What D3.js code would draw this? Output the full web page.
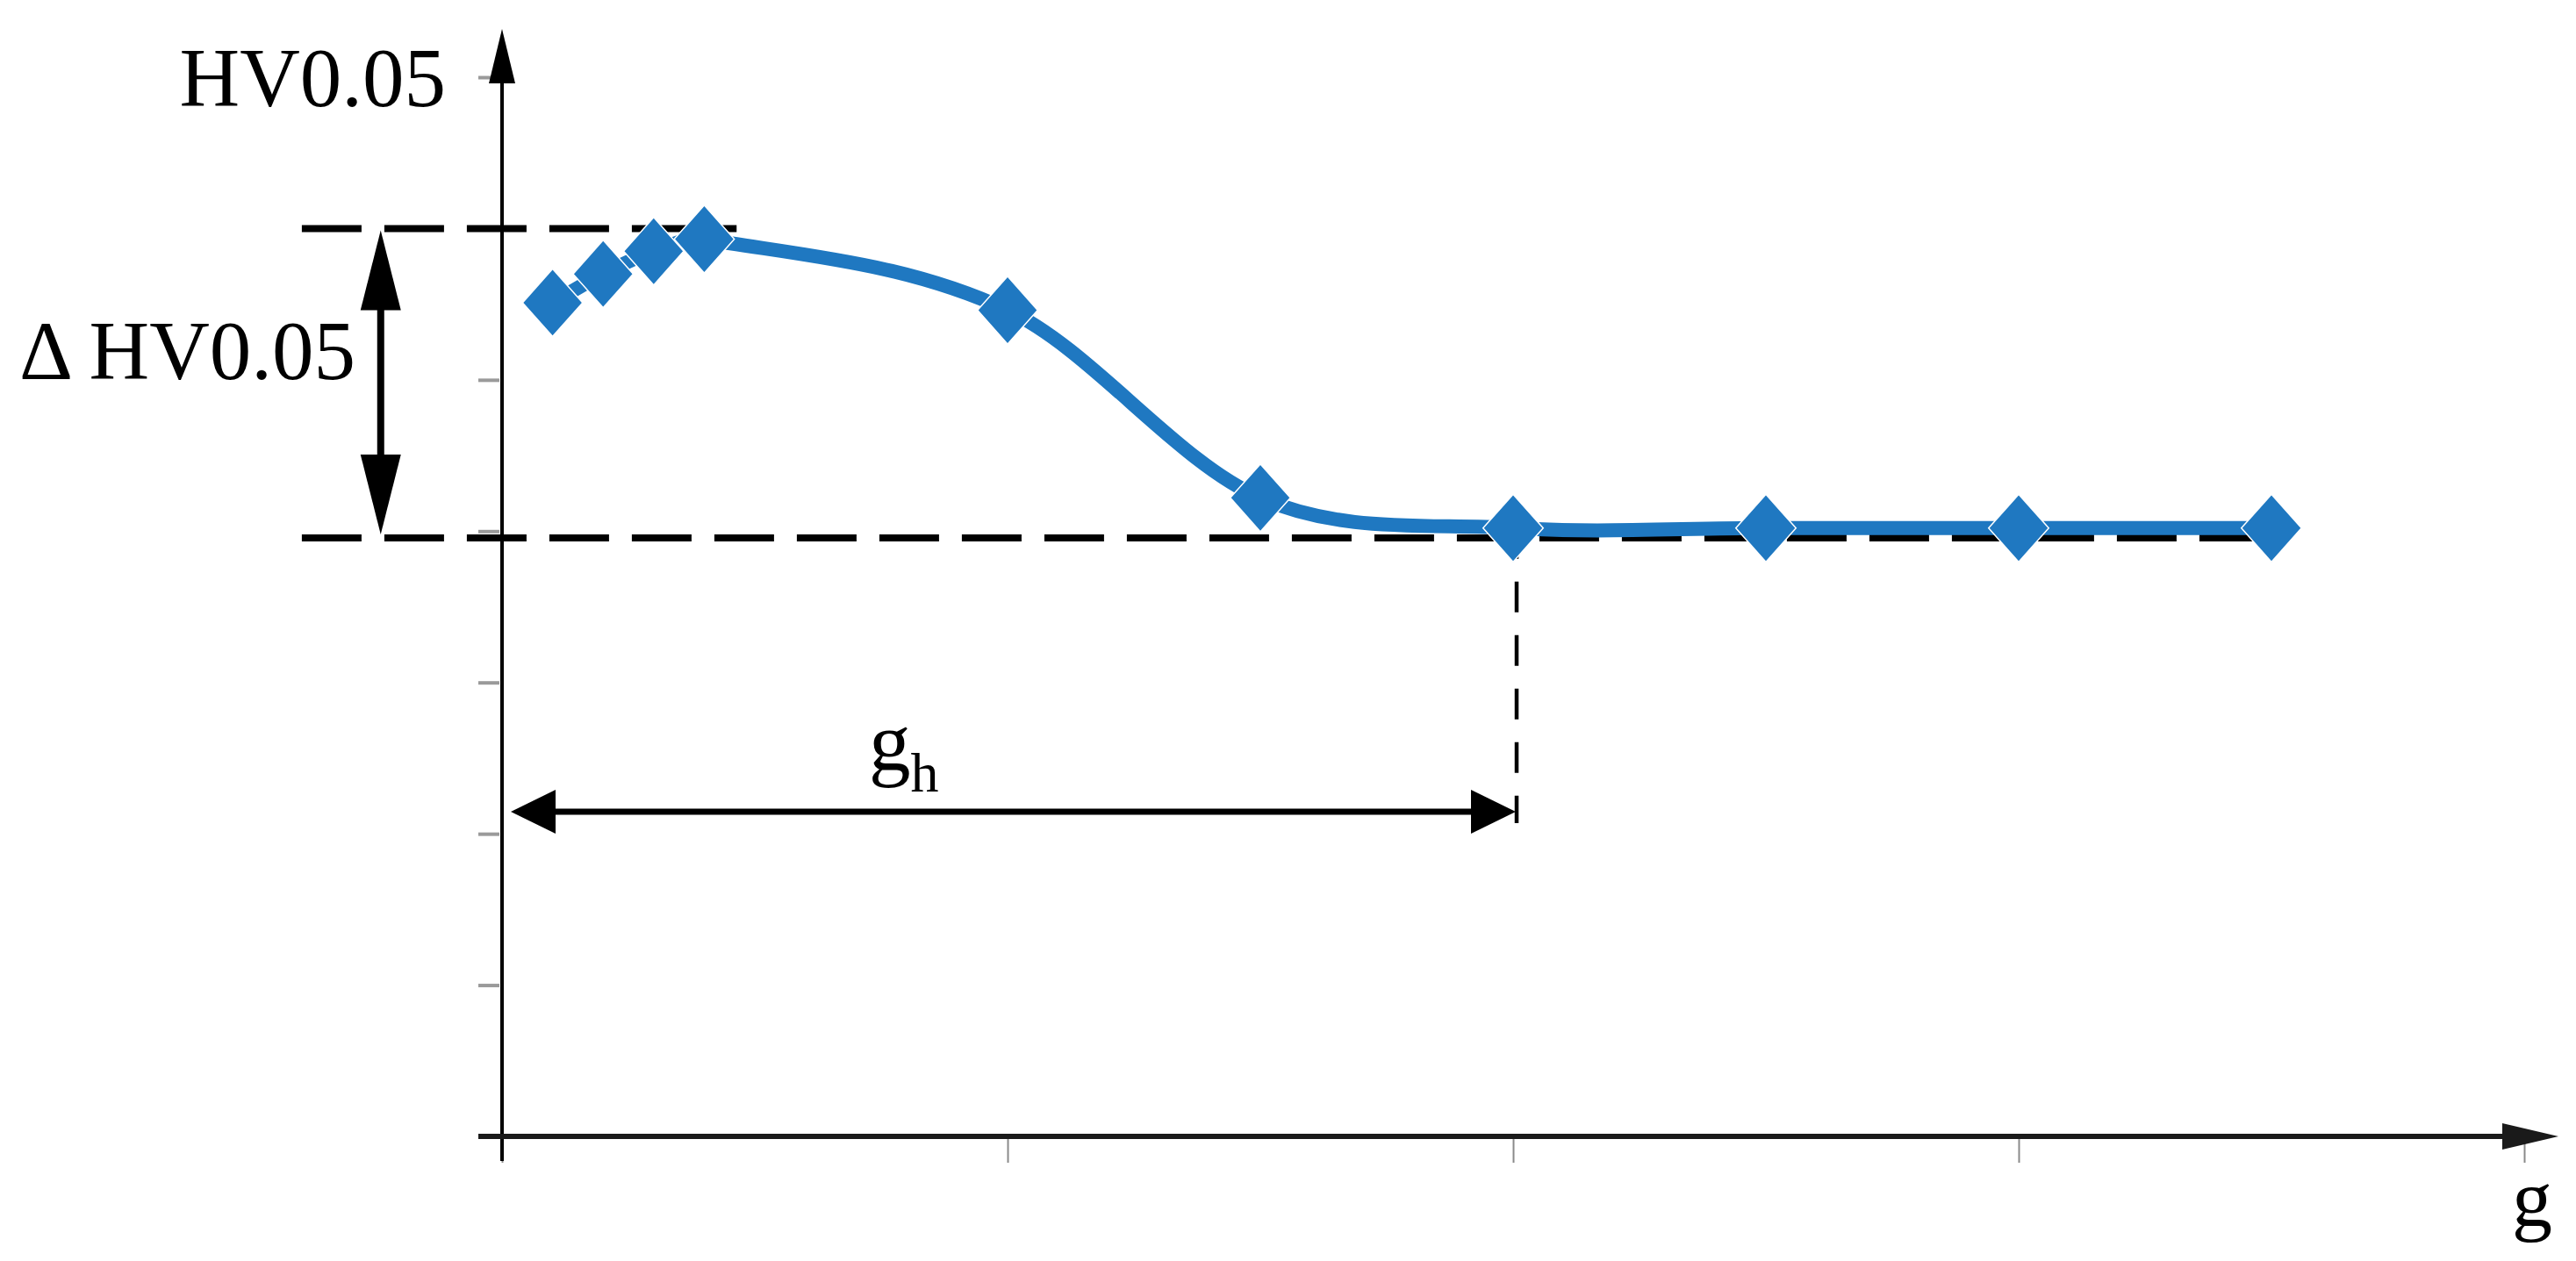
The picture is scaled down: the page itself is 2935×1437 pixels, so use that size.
<!DOCTYPE html>
<html>
<head>
<meta charset="utf-8">
<style>
  body { margin: 0; background: #fff; }
  svg { display: block; font-family: "Liberation Serif", "Times New Roman", serif; }
  .axis path { display: none; }
  .axis text { display: none; }
  .y.axis line { stroke: #9a9a9a; stroke-width: 4px; }
  .x.axis line { stroke: #8a8a8a; stroke-width: 2px; }
  .label { fill: #000; }
</style>
</head>
<body>
<script src="https://cdn.jsdelivr.net/npm/d3@7/dist/d3.min.js"></script>
<script>
// data (g in axis units, HV0.05 in axis units)
var gValues  = [0.1, 0.2, 0.3, 0.4, 1.0, 1.5, 2.0, 2.5, 3.0, 3.5];
var hvValues = [5.51, 5.70, 5.85, 5.93, 5.46, 4.22, 4.02, 4.02, 4.02, 4.02];
var xTicks = [0, 1, 2, 3, 4];
var yTicks = [0, 1, 2, 3, 4, 5, 6, 7];

// annotation levels
var hvMaxLevel = 6.0, hvMinLevel = 3.955;
var ghValue = 2.0;
var ghArrowLevel = 2.146, ghDropEnd = 2.07;
var deltaArrowG = -0.24;
var guideStart = -0.396, upperGuideEnd = 0.464, lowerGuideEnd = 3.536;

var W = 2935, H = 1437;
var blue = "#1f78c1";

var x = d3.scaleLinear().domain([0, 4]).range([572, 2876]);
var y = d3.scaleLinear().domain([0, 7]).range([1295, 88]);

var svg = d3.select("body").append("svg")
    .attr("width", W)
    .attr("height", H);

svg.append("rect").attr("width", W).attr("height", H).attr("fill", "#fff");

// ticks
svg.append("g")
    .attr("class", "y axis")
    .attr("transform", "translate(" + (x(0) - 3) + ",0)")
    .call(d3.axisLeft(y).tickValues(yTicks).tickSize(24).tickFormat(""));

svg.append("g")
    .attr("class", "x axis")
    .attr("transform", "translate(0," + y(0) + ")")
    .call(d3.axisBottom(x).tickValues(xTicks).tickSize(30).tickFormat(""));

function head(tx, ty, dx, dy, len, half) {
  var bx = tx - dx * len, by = ty - dy * len;
  var px = -dy * half, py = dx * half;
  return [[tx, ty], [bx + px, by + py], [bx - px, by - py]];
}

function arrow(x1, y1, x2, y2, opt) {
  var L = Math.hypot(x2 - x1, y2 - y1), dx = (x2 - x1) / L, dy = (y2 - y1) / L;
  var sx = opt.both ? x1 + dx * opt.len * 0.8 : x1, sy = opt.both ? y1 + dy * opt.len * 0.8 : y1;
  svg.append("line")
      .attr("x1", sx).attr("y1", sy)
      .attr("x2", x2 - dx * opt.len * 0.8).attr("y2", y2 - dy * opt.len * 0.8)
      .attr("stroke", opt.color).attr("stroke-width", opt.width);
  svg.append("polygon").attr("points", head(x2, y2, dx, dy, opt.len, opt.half).join(" ")).attr("fill", opt.color);
  if (opt.both)
    svg.append("polygon").attr("points", head(x1, y1, -dx, -dy, opt.len, opt.half).join(" ")).attr("fill", opt.color);
}

// smoothing like a spreadsheet chart: cubic Hermite, tangent = slope between neighbours
function curveSmooth(context) {
  var xs, ys;
  return {
    areaStart: function() {}, areaEnd: function() {},
    lineStart: function() { xs = []; ys = []; },
    point: function(px, py) { xs.push(+px); ys.push(+py); },
    lineEnd: function() {
      var n = xs.length;
      if (!n) return;
      var m = xs.map(function(_, i) {
        var a = Math.max(i - 1, 0), b = Math.min(i + 1, n - 1);
        return (ys[b] - ys[a]) / (xs[b] - xs[a]);
      });
      context.moveTo(xs[0], ys[0]);
      for (var i = 0; i < n - 1; i++) {
        var h = xs[i + 1] - xs[i];
        context.bezierCurveTo(xs[i] + h / 3, ys[i] + m[i] * h / 3,
                              xs[i + 1] - h / 3, ys[i + 1] - m[i + 1] * h / 3,
                              xs[i + 1], ys[i + 1]);
      }
    }
  };
}

// axes with arrows
arrow(x(0), y(0) + 28, x(0), 33, {len: 62, half: 15, width: 4, color: "#000"});
arrow(x(0) - 27, y(0), 2915, y(0), {len: 64, half: 15, width: 6, color: "#1a1a1a"});

// dashed guides
svg.append("line")
    .attr("x1", x(guideStart)).attr("x2", x(upperGuideEnd))
    .attr("y1", y(hvMaxLevel)).attr("y2", y(hvMaxLevel))
    .attr("stroke", "#000").attr("stroke-width", 8).attr("stroke-dasharray", "68,26");
svg.append("line")
    .attr("x1", x(guideStart)).attr("x2", x(lowerGuideEnd))
    .attr("y1", y(hvMinLevel)).attr("y2", y(hvMinLevel))
    .attr("stroke", "#000").attr("stroke-width", 8).attr("stroke-dasharray", "68,26");
svg.append("line")
    .attr("x1", x(ghValue) + 4).attr("x2", x(ghValue) + 4)
    .attr("y1", y(hvValues[6])).attr("y2", y(ghDropEnd))
    .attr("stroke", "#000").attr("stroke-width", 4.5).attr("stroke-dasharray", "35,26");

// delta arrow and g_h arrow
arrow(x(deltaArrowG), y(hvMinLevel) - 4, x(deltaArrowG), y(hvMaxLevel) + 2,
      {both: true, len: 91, half: 23, width: 8, color: "#000"});
arrow(x(0) + 10, y(ghArrowLevel), x(ghValue) + 3, y(ghArrowLevel),
      {both: true, len: 51, half: 25, width: 7, color: "#000"});

// series
var line = d3.line()
    .x(function(d, i) { return x(gValues[i]); })
    .y(function(d) { return y(d); })
    .curve(curveSmooth);

svg.append("path")
    .datum(hvValues)
    .attr("d", line)
    .attr("fill", "none")
    .attr("stroke", blue)
    .attr("stroke-width", 16);

svg.selectAll("path.pt")
    .data(hvValues)
  .enter().append("path")
    .attr("class", "pt")
    .attr("d", d3.symbol(d3.symbolSquare, 2600))
    .attr("transform", function(d, i) {
      return "translate(" + x(gValues[i]) + "," + y(d) + ") scale(0.95,1.07) rotate(45)";
    })
    .attr("fill", blue)
    .attr("stroke", "#fff")
    .attr("stroke-width", 1.5);

// labels
svg.append("text").attr("class", "label")
    .attr("x", 508).attr("y", 121).attr("text-anchor", "end")
    .attr("font-size", 95).text("HV0.05");
svg.append("text").attr("class", "label")
    .attr("x", 22).attr("y", 432)
    .attr("font-size", 95).text("\u0394 HV0.05");

var gh = svg.append("text").attr("class", "label")
    .attr("x", 990).attr("y", 878).attr("font-size", 95);
gh.append("tspan").text("g");
gh.append("tspan").attr("font-size", 64).attr("dy", 24).text("h");

svg.append("text").attr("class", "label")
    .attr("x", 2862).attr("y", 1397)
    .attr("font-size", 92).text("g");
</script>
</body>
</html>
